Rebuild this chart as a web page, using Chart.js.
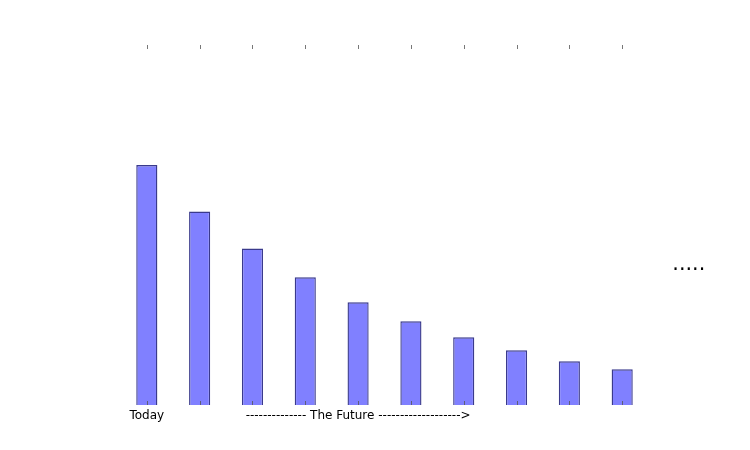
<!DOCTYPE html>
<html>
<head>
<meta charset="utf-8">
<script src="https://cdn.jsdelivr.net/npm/chart.js@4.4.1/dist/chart.umd.min.js"></script>
<style>
html, body { margin: 0; padding: 0; background: #fff; }
#wrap { width: 750px; height: 450px; }
</style>
</head>
<body>
<div id="wrap"><canvas id="chart" width="750" height="450"></canvas></div>
<script>
// Values
const periods = [0, 1, 2, 3, 4, 5, 6, 7, 8, 9];
const values = [1.0, 0.806, 0.652, 0.532, 0.428, 0.349, 0.282, 0.228, 0.182, 0.149];
const tickLabels = ['Today', '', '', '', '-------------- The Future ------------------->', '', '', '', '', ''];
const moreText = '.....';

// inward tick marks on top and bottom, plus the trailing dots
const innerTicks = {
    id: 'innerTicks',
    afterDatasetsDraw(chart) {
        const { ctx, chartArea, scales } = chart;
        ctx.save();
        ctx.strokeStyle = '#555';
        ctx.lineWidth = 0.8;
        periods.forEach(p => {
            const x = Math.round(scales.x.getPixelForValue(p)) + 0.5;
            ctx.beginPath();
            ctx.moveTo(x, chartArea.top);
            ctx.lineTo(x, chartArea.top + 4);
            ctx.moveTo(x, chartArea.bottom);
            ctx.lineTo(x, chartArea.bottom - 4);
            ctx.stroke();
        });
        ctx.fillStyle = '#000';
        ctx.font = '20.7px "DejaVu Sans"';
        ctx.textBaseline = 'alphabetic';
        ctx.textAlign = 'left';
        ctx.fillText(moreText, scales.x.getPixelForValue(9.95), scales.y.getPixelForValue(0.5625));
        ctx.restore();
    }
};

new Chart(document.getElementById('chart'), {
    type: 'bar',
    data: {
        datasets: [{
            data: periods.map((p, i) => ({ x: p, y: values[i] })),
            backgroundColor: '#8080ff',
            borderColor: '#3a3a8c',
            borderWidth: 1.4,
            borderSkipped: 'bottom',
            barPercentage: 0.4,
            categoryPercentage: 1.0
        }]
    },
    options: {
        responsive: false,
        animation: false,
        devicePixelRatio: 1,
        layout: { padding: { left: 94, right: 75, top: 45, bottom: 0 } },
        plugins: { legend: { display: false }, tooltip: { enabled: false } },
        scales: {
            x: {
                type: 'linear',
                min: -1,
                max: 10,
                offset: false,
                grid: { display: false, drawTicks: false },
                border: { display: false },
                afterFit: s => { s.height = 45; },
                ticks: {
                    stepSize: 1,
                    autoSkip: false,
                    maxRotation: 0,
                    padding: 4,
                    color: '#000',
                    font: { family: 'DejaVu Sans', size: 12 },
                    callback: v => {
                        const i = periods.indexOf(v);
                        return i >= 0 ? tickLabels[i] : '';
                    }
                }
            },
            y: { display: false, min: 0, max: 1.5 }
        }
    },
    plugins: [innerTicks]
});
</script>
</body>
</html>
